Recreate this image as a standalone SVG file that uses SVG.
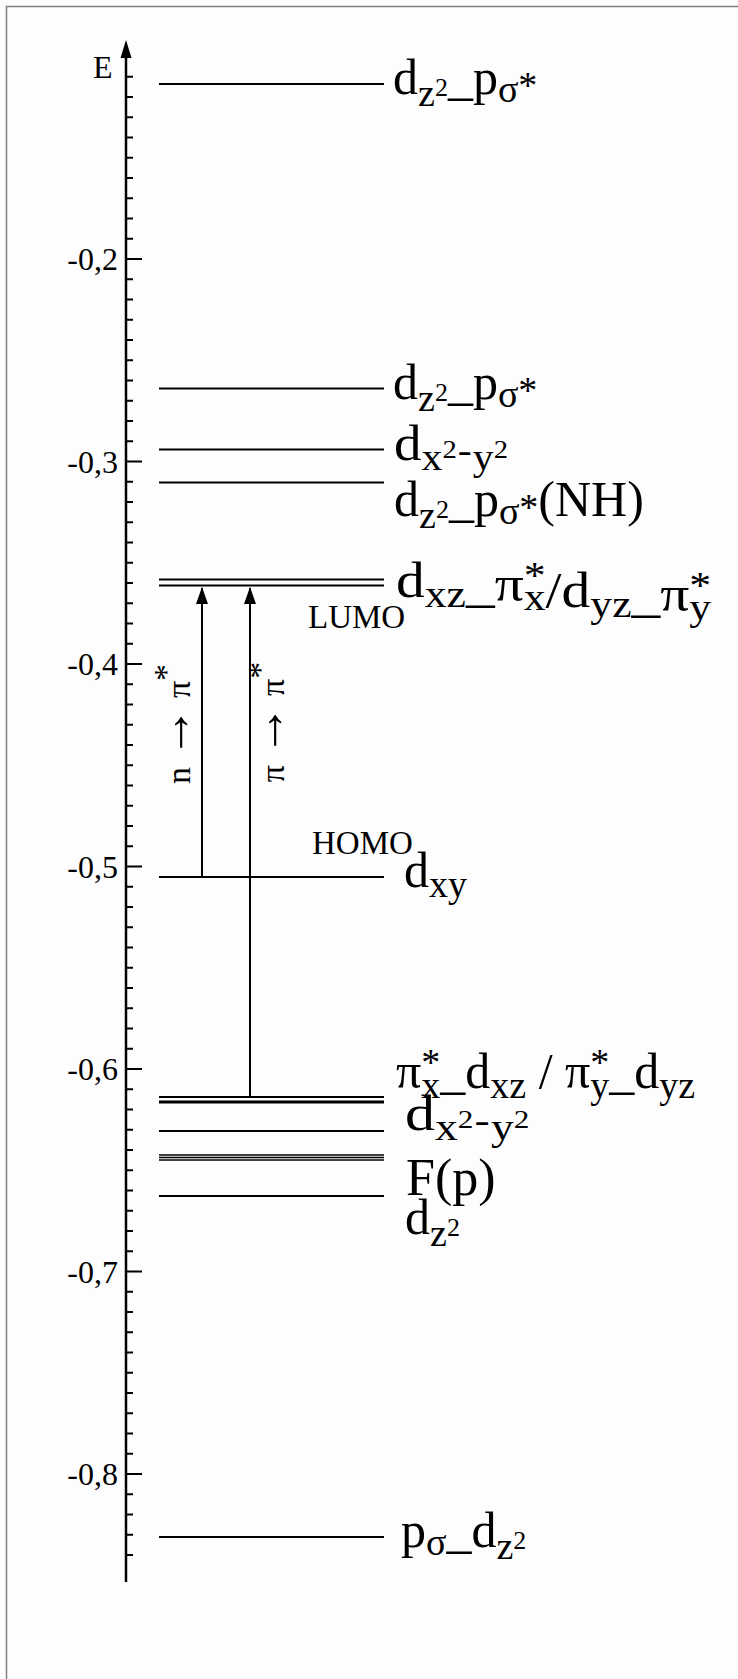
<svg xmlns="http://www.w3.org/2000/svg" width="738" height="1679" viewBox="0 0 738 1679">
<style>
text{font-family:"Liberation Serif","Times New Roman",serif;fill:#000}
.L{font-size:50px}
.s{font-size:38px}
.u{font-size:26px}
.ax{font-size:32px}
.sm{font-size:33px}
.lv{stroke:#000;stroke-width:2;fill:none}
</style>
<defs>
<marker id="ah" viewBox="0 0 17 12" refX="16" refY="6" markerWidth="17" markerHeight="12" markerUnits="userSpaceOnUse" orient="auto">
<path d="M0,0 L17,6 L0,12 Z" fill="#000"/>
</marker>
</defs>
<rect x="0" y="0" width="738" height="1679" fill="#fdfdfd"/>
<path d="M6.5,1679 V6.5 H738" fill="none" stroke="#808080" stroke-width="1.5"/>

<g id="axis">
<line x1="126" y1="1582" x2="126" y2="56" stroke="#000" stroke-width="2.5"/>
<path d="M126,40 L120.5,58 L131.5,58 Z" fill="#000"/>
<path stroke="#000" stroke-width="2" fill="none" d="M126,76.75h7M126,97h7M126,117.25h7M126,137.5h7M126,157.75h7M126,178h7M126,198.25h7M126,218.5h7M126,238.75h7M126,259h16M126,279.25h7M126,299.5h7M126,319.75h7M126,340h7M126,360.25h7M126,380.5h7M126,400.75h7M126,421h7M126,441.25h7M126,461.5h16M126,481.75h7M126,502h7M126,522.25h7M126,542.5h7M126,562.75h7M126,583h7M126,603.25h7M126,623.5h7M126,643.75h7M126,664h16M126,684.25h7M126,704.5h7M126,724.75h7M126,745h7M126,765.25h7M126,785.5h7M126,805.75h7M126,826h7M126,846.25h7M126,866.5h16M126,886.75h7M126,907h7M126,927.25h7M126,947.5h7M126,967.75h7M126,988h7M126,1008.25h7M126,1028.5h7M126,1048.75h7M126,1069h16M126,1089.25h7M126,1109.5h7M126,1129.75h7M126,1150h7M126,1170.25h7M126,1190.5h7M126,1210.75h7M126,1231h7M126,1251.25h7M126,1271.5h16M126,1291.75h7M126,1312h7M126,1332.25h7M126,1352.5h7M126,1372.75h7M126,1393h7M126,1413.25h7M126,1433.5h7M126,1453.75h7M126,1474h16M126,1494.25h7M126,1514.5h7M126,1534.75h7M126,1555h7"/>
<text class="ax" x="93" y="78">E</text>
<g class="ax" text-anchor="end">
<text x="118" y="270">-0,2</text>
<text x="118" y="472.5">-0,3</text>
<text x="118" y="675">-0,4</text>
<text x="118" y="877.5">-0,5</text>
<text x="118" y="1080">-0,6</text>
<text x="118" y="1282.5">-0,7</text>
<text x="118" y="1485">-0,8</text>
</g>
</g>

<g id="level-1">
<line class="lv" x1="159" y1="84" x2="384" y2="84"/>
<text class="L" x="393" y="94">d<tspan class="s" dy="12">z</tspan><tspan class="u" dy="-10">2</tspan><tspan dy="-2">_p</tspan><tspan class="s" dy="8">σ</tspan><tspan class="s" dy="-4">*</tspan></text>
</g>
<g id="level-2">
<line class="lv" x1="159" y1="388.5" x2="384" y2="388.5"/>
<text class="L" x="393" y="398.5">d<tspan class="s" dy="12">z</tspan><tspan class="u" dy="-10">2</tspan><tspan dy="-2">_p</tspan><tspan class="s" dy="8">σ</tspan><tspan class="s" dy="-4">*</tspan></text>
</g>
<g id="level-3">
<line class="lv" x1="159" y1="449.5" x2="384" y2="449.5"/>
<text class="L" transform="translate(394 459.5) scale(1.1 1)">d<tspan class="s" dy="10">x</tspan><tspan class="u" dy="-12">2</tspan><tspan class="s" dx="1" dy="5">-</tspan><tspan class="s" dx="1" dy="7">y</tspan><tspan class="u" dy="-12">2</tspan></text>
</g>
<g id="level-4">
<line class="lv" x1="159" y1="482.5" x2="384" y2="482.5"/>
<text class="L" x="394" y="516">d<tspan class="s" dy="12">z</tspan><tspan class="u" dy="-10">2</tspan><tspan dy="-2">_p</tspan><tspan class="s" dy="8">σ</tspan><tspan class="s" dy="-4">*</tspan><tspan dy="-4">(NH)</tspan></text>
</g>
<g id="level-LUMO">
<line class="lv" x1="159" y1="579.5" x2="384" y2="579.5"/>
<line class="lv" x1="159" y1="585.5" x2="384" y2="585.5"/>
<text class="sm" x="308" y="628">LUMO</text>
<text class="L" transform="translate(396 597) scale(1.15 1)">d<tspan class="s" dy="10">xz</tspan><tspan dy="-6">_π</tspan><tspan class="s" dy="-13">*</tspan><tspan class="s" dx="-19" dy="22">x</tspan><tspan dy="-3">/d</tspan><tspan class="s" dy="10">yz</tspan><tspan dy="-6">_π</tspan><tspan class="s" dy="-13">*</tspan><tspan class="s" dx="-19" dy="22">y</tspan></text>
</g>
<g id="level-HOMO">
<line class="lv" x1="159" y1="877" x2="384" y2="877"/>
<text class="sm" x="312" y="854">HOMO</text>
<text class="L" x="404" y="887">d<tspan class="s" dy="10">xy</tspan></text>
</g>
<g id="level-pi">
<line class="lv" x1="159" y1="1097" x2="384" y2="1097"/>
<line x1="159" y1="1102" x2="384" y2="1102" stroke="#000" stroke-width="3"/>
<text class="L" x="396" y="1088">π<tspan class="s" dy="-13">*</tspan><tspan class="s" dx="-19" dy="23">x</tspan><tspan dy="-10">_d</tspan><tspan class="s" dy="10">xz</tspan><tspan dy="-10"> / π</tspan><tspan class="s" dy="-13">*</tspan><tspan class="s" dx="-19" dy="23">y</tspan><tspan dy="-10">_d</tspan><tspan class="s" dy="10">yz</tspan></text>
</g>
<g id="level-dx2y2">
<line class="lv" x1="159" y1="1131" x2="384" y2="1131"/>
<text class="L" transform="translate(405 1130) scale(1.2 1)">d<tspan class="s" dy="10">x</tspan><tspan class="u" dy="-12">2</tspan><tspan class="s" dx="1" dy="5">-</tspan><tspan class="s" dx="1" dy="7">y</tspan><tspan class="u" dy="-12">2</tspan></text>
</g>
<g id="level-Fp">
<line x1="159" y1="1155" x2="384" y2="1155" stroke="#000" stroke-width="1.5"/>
<line x1="159" y1="1157.5" x2="384" y2="1157.5" stroke="#000" stroke-width="1.5"/>
<line x1="159" y1="1160" x2="384" y2="1160" stroke="#000" stroke-width="1.5"/>
<text x="406" y="1195" style="font-size:52px">F(p)</text>
</g>
<g id="level-dz2">
<line class="lv" x1="159" y1="1196" x2="384" y2="1196"/>
<text class="L" x="405" y="1234">d<tspan class="s" dy="12">z</tspan><tspan class="u" dy="-10">2</tspan></text>
</g>
<g id="level-bottom">
<line class="lv" x1="159" y1="1537" x2="384" y2="1537"/>
<text class="L" x="401" y="1547">p<tspan class="s" dy="8">σ</tspan><tspan dy="-8">_d</tspan><tspan class="s" dy="12">z</tspan><tspan class="u" dy="-10">2</tspan></text>
</g>

<g id="connectors" stroke="#000" stroke-width="2" fill="none">
<line x1="202" y1="877" x2="202" y2="588" marker-end="url(#ah)"/>
<line x1="250" y1="1097" x2="250" y2="588" marker-end="url(#ah)"/>
</g>
<g id="transition-labels" style="font-size:34px">
<text x="190" y="724" text-anchor="middle" transform="rotate(-90 190 724)">n <tspan style="font-size:52px">→</tspan> π<tspan dy="-13">*</tspan></text>
<text x="284" y="722" text-anchor="middle" transform="rotate(-90 284 722)">π <tspan style="font-size:52px">→</tspan> π<tspan dy="-13">*</tspan></text>
</g>
</svg>
